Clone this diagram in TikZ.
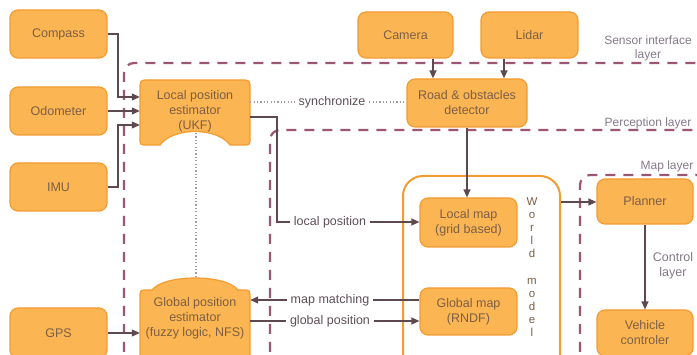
\documentclass[tikz,border=0pt]{standalone}
\usepackage{fontspec}
\setmainfont{Liberation Sans}
\usetikzlibrary{arrows.meta}

\definecolor{boxfill}{HTML}{FBB552}
\definecolor{boxline}{HTML}{F39C32}
\definecolor{boxtext}{HTML}{7D5F45}
\definecolor{wirecol}{HTML}{5E4A4E}
\definecolor{layercol}{HTML}{9A5672}
\definecolor{layertext}{HTML}{857A88}
\definecolor{labeltext}{HTML}{5E4F58}
\definecolor{dotcol}{HTML}{A39CA3}

\begin{document}
\begin{tikzpicture}[x=1pt,y=-1pt,
  box/.style={rectangle, rounded corners=8pt, fill=boxfill, draw=boxline,
    line width=1.2pt, text=boxtext, font=\fontsize{12.5}{15}\selectfont,
    align=center, inner sep=0pt},
  boxshape/.style={fill=boxfill, draw=boxline, line width=1.2pt},
  shapetext/.style={rectangle, inner sep=0pt, text=boxtext,
    font=\fontsize{12.5}{15}\selectfont, align=center},
  layerline/.style={draw=layercol, line width=2.2pt, dash pattern=on 10pt off 8pt,
    rounded corners=10pt},
  layerlabel/.style={text=layertext, font=\fontsize{12}{14}\selectfont, align=center},
  wire/.style={draw=wirecol, line width=1.3pt},
  arrow/.style={wire, -{Triangle[length=8pt,width=7pt]}},
  syncline/.style={draw=dotcol, line width=1.1pt, dash pattern=on 1.2pt off 2.2pt},
  wirelabel/.style={fill=white, text=labeltext, inner xsep=4pt, inner ysep=1pt,
    font=\fontsize{12.5}{15}\selectfont},
  worldbox/.style={rectangle, draw=boxline, fill=white, line width=2pt,
    rounded corners=20pt, inner sep=0pt},
  letters/.style={text=boxtext, font=\fontsize{11.5}{13}\selectfont, align=center}
]
\clip (0,0) rectangle (697,355);
\fill[white] (0,0) rectangle (697,355);

% layer boundaries
\draw[layerline] (124,370) -- (124,63) -- (710,63);
\draw[layerline] (270,370) -- (270,130) -- (710,130);
\draw[layerline] (580,370) -- (580,175) -- (710,175);

\node[layerlabel] (lblSensor) at (648,48) {Sensor interface\\layer};
\node[layerlabel] (lblPerception) at (648,123) {Perception layer};
\node[layerlabel] (lblMap) at (667,166) {Map layer};

% world model frame
\node[worldbox, minimum width=157pt, minimum height=200pt] (world) at (481.5,276) {};
\node[letters] (wordWorld) at (532,228) {W\\o\\r\\l\\d};
\node[letters] (wordModel) at (532,307) {m\\o\\d\\e\\l};

% sensors
\node[box, minimum width=97pt, minimum height=48pt] (compass) at (58.5,34) {Compass};
\node[box, minimum width=97pt, minimum height=48pt] (odometer) at (58.5,111) {Odometer};
\node[box, minimum width=97pt, minimum height=48pt] (imu) at (58.5,187) {IMU};
\node[box, minimum width=97pt, minimum height=50pt] (gps) at (58.5,333) {GPS};
\node[box, minimum width=95pt, minimum height=46pt] (camera) at (405.5,35) {Camera};
\node[box, minimum width=97pt, minimum height=46pt] (lidar) at (529.5,35) {Lidar};

% perception and maps
\node[box, minimum width=120pt, minimum height=48pt] (detector) at (467,103) {Road \& obstacles\\detector};
\node[box, minimum width=97pt, minimum height=49pt] (localmap) at (468.5,222.5) {Local map\\(grid based)};
\node[box, minimum width=97pt, minimum height=47pt] (globalmap) at (468.5,311.5) {Global map\\(RNDF)};

% control
\node[box, minimum width=96pt, minimum height=45pt] (planner) at (645,201.5) {Planner};
\node[box, minimum width=96pt, minimum height=46pt] (vehicle) at (645,333) {Vehicle\\controler};
\node[layerlabel, font=\fontsize{12.5}{15}\selectfont] (lblControl) at (673,266) {Control\\layer};

% local position estimator (notched bottom)
\path[boxshape] (140,89) .. controls (140,80) .. (149,80) -- (241,80)
  .. controls (250,80) .. (250,89) -- (250,138) .. controls (250,145) .. (243,145)
  -- (230,145) .. controls (217,127) and (173,127) .. (160,145) -- (147,145)
  .. controls (140,145) .. (140,138) -- cycle;
\node[shapetext, minimum width=110pt, minimum height=65pt] (lpe) at (195,111)
  {Local position\\estimator\\(UKF)};
\coordinate (lpeNotch) at (196,133);

% global position estimator (bulged top)
\path[boxshape] (140,365) -- (140,298) .. controls (140,290) .. (147,290) -- (152,290)
  .. controls (164,274) and (226,274) .. (238,290) -- (243,290)
  .. controls (250,290) .. (250,298) -- (250,365) -- cycle;
\node[shapetext, minimum width=110pt, minimum height=72pt] (gpe) at (195,318)
  {Global position\\estimator\\(fuzzy logic, NFS)};
\coordinate (gpeTop) at (196,279);

% sensor inputs to the estimators
\draw[arrow] (compass.east) -| (118,97) -- (lpe.west |- 0,97);
\draw[arrow] (odometer.east) -- (lpe.west |- odometer.east);
\draw[arrow] (imu.east) -| (118,125) -- (lpe.west |- 0,125);
\draw[arrow] (gps.east) -- (gpe.west |- gps.east);

% camera and lidar into the detector
\draw[arrow] (camera.south -| 433,0) -- (detector.north -| 433,0);
\draw[arrow] (lidar.south -| 504,0) -- (detector.north -| 504,0);

% synchronisation links
\draw[syncline] (lpe.east |- 0,102) -- (detector.west |- 0,102);
\node[wirelabel, text=labeltext] (lblSync) at (332,102) {synchronize};
\draw[syncline] (lpeNotch) -- (gpeTop);

% estimators and maps
\draw[arrow] (lpe.east |- 0,117) -| (277,222) -- (localmap.west |- 0,222);
\node[wirelabel] (lblLocal) at (330,222) {local position};
\draw[arrow] (globalmap.west |- 0,300) -- (gpe.east |- 0,300);
\node[wirelabel] (lblMatch) at (330,300) {map matching};
\draw[arrow] (gpe.east |- 0,321) -- (globalmap.west |- 0,321);
\node[wirelabel] (lblGlobal) at (330,321) {global position};

\draw[arrow] (detector.south) -- (detector.south |- localmap.north);
\draw[arrow] (world.east |- 0,202) -- (planner.west |- 0,202);
\draw[arrow] (planner.south) -- (vehicle.north);
\end{tikzpicture}
\end{document}
